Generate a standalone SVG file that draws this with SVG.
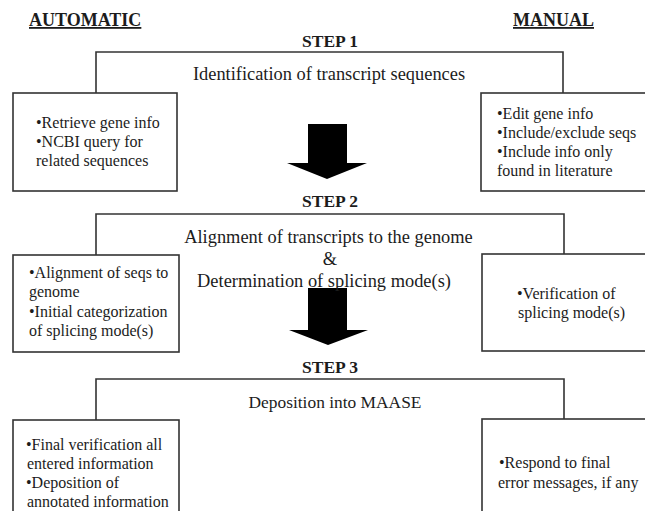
<svg xmlns="http://www.w3.org/2000/svg" width="645" height="511" viewBox="0 0 645 511">
<style>
  text { font-family: "Liberation Serif", "Times New Roman", serif; fill: #1c1c1c; }
  .hdr { font-size: 18px; font-weight: bold; text-decoration: underline; }
  .step { font-size: 17.5px; font-weight: bold; text-anchor: middle; }
  .title { font-size: 18.4px; text-anchor: middle; }
  .item { font-size: 16px; }
  .box { fill: #ffffff; stroke: #333333; stroke-width: 1.6; }
  .bracket { fill: none; stroke: #333333; stroke-width: 1.6; }
  .arrow { fill: #000000; stroke: none; }
</style>
<rect x="0" y="0" width="645" height="511" fill="#ffffff"/>

<g id="header-automatic"><text class="hdr" x="29" y="26">AUTOMATIC</text></g>
<g id="header-manual"><text class="hdr" x="513" y="26">MANUAL</text></g>

<g id="connectors">
  <path class="bracket" d="M96,93 V52 H563 V93"/>
  <path class="bracket" d="M96,255 V214 H564 V254"/>
  <path class="bracket" d="M96,420 V379 H564 V419"/>
  <polygon class="arrow" points="308,124 347,124 347,163 367,163 327,179 287,163 308,163"/>
  <polygon class="arrow" points="308,288 347,288 347,330 368,330 328,345 289,330 308,330"/>
</g>

<g id="step1">
  <text class="step" x="330" y="47">STEP 1</text>
  <text class="title" x="329" y="80">Identification of transcript sequences</text>
</g>
<g id="step1-auto">
  <rect class="box" x="13" y="93" width="164" height="98"/>
  <text class="item" x="36" y="128">•Retrieve gene info</text>
  <text class="item" x="36" y="147">•NCBI query for</text>
  <text class="item" x="36" y="166">related sequences</text>
</g>
<g id="step1-manual">
  <rect class="box" x="481" y="93" width="170" height="98"/>
  <text class="item" x="497" y="119">•Edit gene info</text>
  <text class="item" x="497" y="138">•Include/exclude seqs</text>
  <text class="item" x="497" y="157">•Include info only</text>
  <text class="item" x="497" y="176">found in literature</text>
</g>

<g id="step2">
  <text class="step" x="330" y="207">STEP 2</text>
  <text class="title" x="328.5" y="243">Alignment of transcripts to the genome</text>
  <text class="title" x="330" y="265">&amp;</text>
  <text class="title" x="324" y="287">Determination of splicing mode(s)</text>
</g>
<g id="step2-auto">
  <rect class="box" x="13" y="255" width="166" height="97"/>
  <text class="item" x="29" y="278">•Alignment of seqs to</text>
  <text class="item" x="29" y="297">genome</text>
  <text class="item" x="29" y="317">•Initial categorization</text>
  <text class="item" x="29" y="336">of splicing mode(s)</text>
</g>
<g id="step2-manual">
  <rect class="box" x="482" y="254" width="170" height="97"/>
  <text class="item" x="517" y="299">•Verification of</text>
  <text class="item" x="518" y="318">splicing mode(s)</text>
</g>

<g id="step3">
  <text class="step" x="330" y="373">STEP 3</text>
  <text class="title" x="335" y="408" style="font-size:17.4px">Deposition into MAASE</text>
</g>
<g id="step3-auto">
  <rect class="box" x="13" y="420" width="166" height="100"/>
  <text class="item" x="26" y="450">•Final verification all</text>
  <text class="item" x="27" y="469">entered information</text>
  <text class="item" x="26" y="488">•Deposition of</text>
  <text class="item" x="27" y="507">annotated information</text>
</g>
<g id="step3-manual">
  <rect class="box" x="482" y="419" width="170" height="100"/>
  <text class="item" x="499" y="468">•Respond to final</text>
  <text class="item" x="498" y="488">error messages, if any</text>
</g>
</svg>
